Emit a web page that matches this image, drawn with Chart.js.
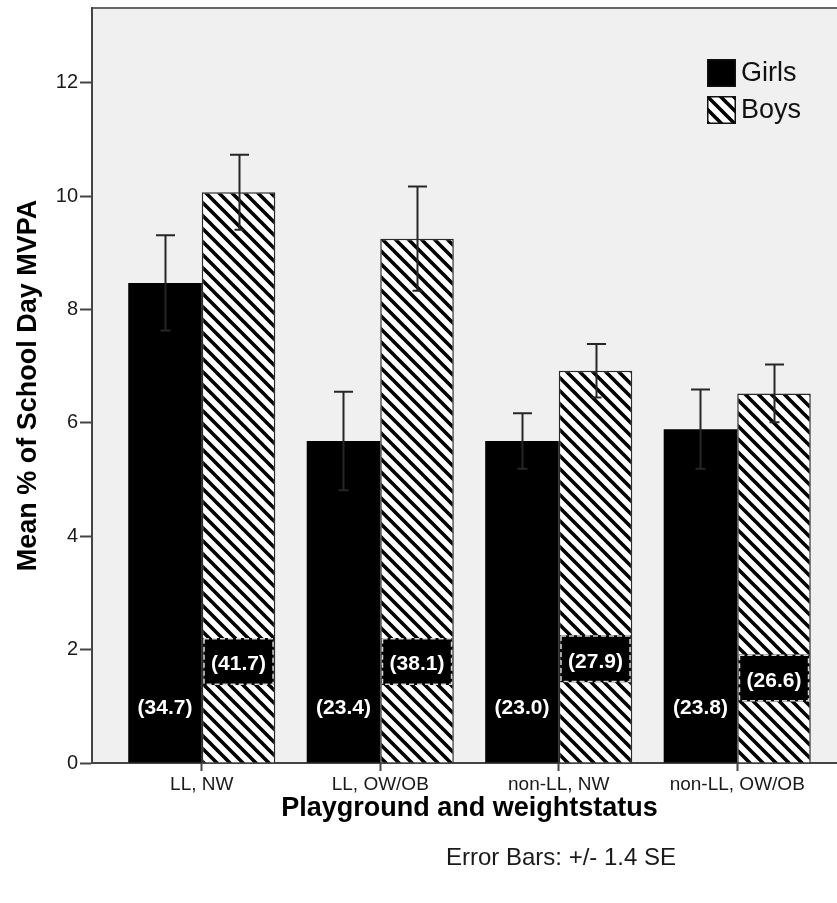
<!DOCTYPE html>
<html>
<head>
<meta charset="utf-8">
<script src="https://cdn.jsdelivr.net/npm/chart.js@4/dist/chart.umd.min.js"></script>
<style>
  html, body { margin: 0; padding: 0; background: #fff; overflow: hidden; width: 837px; height: 903px; }
  canvas { display: block; }
</style>
</head>
<body>
<canvas id="chart" width="860" height="903"></canvas>
<script>
// Groups on the horizontal axis
const categories = ['LL, NW', 'LL, OW/OB', 'non-LL, NW', 'non-LL, OW/OB'];
const seriesNames = ['Girls', 'Boys'];
// Mean % of school day spent in MVPA
const girlsMean = [8.47, 5.68, 5.68, 5.89];
const boysMean = [10.07, 9.25, 6.92, 6.52];
// Half-length of each error bar (+/- 1.4 SE)
const girlsErr = [0.84, 0.87, 0.49, 0.70];
const boysErr = [0.66, 0.92, 0.47, 0.51];
// Bracketed figures printed inside the bars
const girlsNotes = ['(34.7)', '(23.4)', '(23.0)', '(23.8)'];
const boysNotes = ['(41.7)', '(38.1)', '(27.9)', '(26.6)'];
// Value-axis ticks
const yTicks = [0, 2, 4, 6, 8, 10, 12];

const FONT = '"Liberation Sans", Arial, sans-serif';

function makeHatch() {
  const s = 13;
  const tile = document.createElement('canvas');
  tile.width = s; tile.height = s;
  const g = tile.getContext('2d');
  g.fillStyle = '#fff';
  g.fillRect(0, 0, s, s);
  g.strokeStyle = '#000';
  g.lineWidth = 3.6;
  g.beginPath();
  for (const k of [-1, 0, 1]) {
    g.moveTo(k * s - 3, -3);
    g.lineTo(k * s + s + 3, s + 3);
  }
  g.stroke();
  return g.createPattern(tile, 'repeat');
}
const hatchFill = makeHatch();

// Grey plot panel with a frame line along the top
const plotPanel = {
  id: 'plotPanel',
  beforeDraw(chart) {
    const { ctx, chartArea: a } = chart;
    ctx.save();
    ctx.fillStyle = '#f0f0f0';
    ctx.fillRect(a.left, a.top, a.right - a.left, a.bottom - a.top);
    ctx.strokeStyle = '#666';
    ctx.lineWidth = 2;
    ctx.beginPath();
    ctx.moveTo(a.left, a.top);
    ctx.lineTo(a.right, a.top);
    ctx.stroke();
    ctx.restore();
  }
};

// Vertical error bars with caps
const errorBars = {
  id: 'errorBars',
  afterDatasetsDraw(chart) {
    const { ctx } = chart;
    const y = chart.scales.y;
    ctx.save();
    ctx.strokeStyle = '#262626';
    ctx.lineWidth = 2;
    chart.data.datasets.forEach((ds, di) => {
      const meta = chart.getDatasetMeta(di);
      meta.data.forEach((bar, i) => {
        const v = ds.data[i].y, e = ds.errors[i];
        const top = y.getPixelForValue(v + e);
        const bot = y.getPixelForValue(v - e);
        const x = Math.round(bar.x) + 0.5;
        ctx.beginPath();
        ctx.moveTo(x, bot);
        ctx.lineTo(x, top);
        ctx.moveTo(x - 9.5, top);
        ctx.lineTo(x + 9.5, top);
        ctx.moveTo(x - 5, bot);
        ctx.lineTo(x + 5, bot);
        ctx.stroke();
      });
    });
    ctx.restore();
  }
};

// Bracketed figures inside the bars
const barNotes = {
  id: 'barNotes',
  afterDatasetsDraw(chart, args, opts) {
    const { ctx } = chart;
    const y = chart.scales.y;
    ctx.save();
    ctx.font = 'bold 21px ' + FONT;
    ctx.textAlign = 'center';
    ctx.textBaseline = 'middle';
    chart.data.datasets.forEach((ds, di) => {
      const meta = chart.getDatasetMeta(di);
      meta.data.forEach((bar, i) => {
        const level = opts.levels[di][i];
        const cy = y.getPixelForValue(level);
        if (opts.boxed[di]) {
          const w = bar.width - 3, h = 47;
          const bx = bar.x - w / 2, by = cy - h / 2;
          ctx.fillStyle = '#000';
          ctx.fillRect(bx, by, w, h);
          ctx.setLineDash([5, 3]);
          ctx.strokeStyle = '#d8d8d8';
          ctx.lineWidth = 1.5;
          ctx.strokeRect(bx + 0.75, by + 0.75, w - 1.5, h - 1.5);
          ctx.setLineDash([]);
        }
        ctx.fillStyle = '#fff';
        ctx.fillText(ds.notes[i], bar.x, cy + 3);
      });
    });
    ctx.restore();
  }
};

// Legend drawn in the top-right corner of the plot panel
const panelLegend = {
  id: 'panelLegend',
  afterDraw(chart) {
    const { ctx, chartArea: a } = chart;
    const x0 = a.right - 140, y0 = a.top + 51;
    ctx.save();
    ctx.font = '27px ' + FONT;
    ctx.textBaseline = 'middle';
    ctx.textAlign = 'left';
    chart.data.datasets.forEach((ds, i) => {
      const by = y0 + i * 37;
      ctx.fillStyle = ds.backgroundColor;
      ctx.fillRect(x0, by, 29, 28);
      ctx.strokeStyle = '#111';
      ctx.lineWidth = 1.5;
      ctx.strokeRect(x0 + 0.75, by + 0.75, 27.5, 26.5);
      ctx.fillStyle = '#111';
      ctx.fillText(ds.label, x0 + 34, by + 15);
    });
    ctx.restore();
  }
};

// Footnote describing the error bars
const footnote = {
  id: 'footnote',
  afterDraw(chart) {
    const { ctx } = chart;
    ctx.save();
    ctx.font = '24px ' + FONT;
    ctx.fillStyle = '#1a1a1a';
    ctx.textAlign = 'center';
    ctx.textBaseline = 'middle';
    ctx.fillText('Error Bars: +/- 1.4 SE', 561, 858);
    ctx.restore();
  }
};

const toPoints = arr => arr.map((v, i) => ({ x: i, y: v }));

new Chart(document.getElementById('chart'), {
  type: 'bar',
  data: {
    datasets: [
      {
        label: seriesNames[0],
        data: toPoints(girlsMean),
        errors: girlsErr,
        notes: girlsNotes,
        backgroundColor: '#000',
        borderColor: '#000',
        borderWidth: 0
      },
      {
        label: seriesNames[1],
        data: toPoints(boysMean),
        errors: boysErr,
        notes: boysNotes,
        backgroundColor: hatchFill,
        borderColor: '#2a2a2a',
        borderWidth: 1.5
      }
    ]
  },
  options: {
    responsive: false,
    animation: false,
    devicePixelRatio: 1,
    categoryPercentage: 0.824,
    barPercentage: 1.0,
    layout: { padding: { top: 8, right: 13, bottom: 0, left: 0 } },
    plugins: {
      legend: { display: false },
      tooltip: { enabled: false },
      barNotes: {
        levels: [[1.02, 1.02, 1.02, 1.02], [1.79, 1.79, 1.84, 1.50]],
        boxed: [false, true]
      }
    },
    scales: {
      x: {
        type: 'linear',
        min: -0.615,
        max: 3.615,
        offset: false,
        afterBuildTicks: s => { s.ticks = categories.map((_, i) => ({ value: i })); },
        afterFit: s => { s.height = 140; },
        ticks: {
          autoSkip: false,
          maxRotation: 0,
          padding: 2,
          color: '#1a1a1a',
          font: { family: FONT, size: 19 },
          callback: v => categories[v]
        },
        grid: { drawOnChartArea: false, offset: false, tickLength: 8, tickColor: '#444', tickWidth: 2 },
        border: { display: true, color: '#444', width: 2 },
        title: {
          display: true,
          text: 'Playground and weightstatus',
          color: '#000',
          font: { family: FONT, size: 27, weight: 'bold' },
          padding: { top: 0, bottom: 78 }
        }
      },
      y: {
        min: 0,
        max: 13.32,
        afterBuildTicks: s => { s.ticks = yTicks.map(v => ({ value: v })); },
        afterFit: s => { s.width = 92; s.paddingTop = 0; s.paddingBottom = 0; },
        ticks: {
          padding: 2,
          color: '#1a1a1a',
          font: { family: FONT, size: 20 }
        },
        grid: { drawOnChartArea: false, tickLength: 12, tickColor: '#444', tickWidth: 2 },
        border: { display: true, color: '#444', width: 2 },
        title: {
          display: true,
          text: 'Mean % of School Day MVPA',
          color: '#000',
          font: { family: FONT, size: 27, weight: 'bold' },
          padding: { top: 12, bottom: 0 }
        }
      }
    }
  },
  plugins: [plotPanel, errorBars, barNotes, panelLegend, footnote]
});
</script>
</body>
</html>
